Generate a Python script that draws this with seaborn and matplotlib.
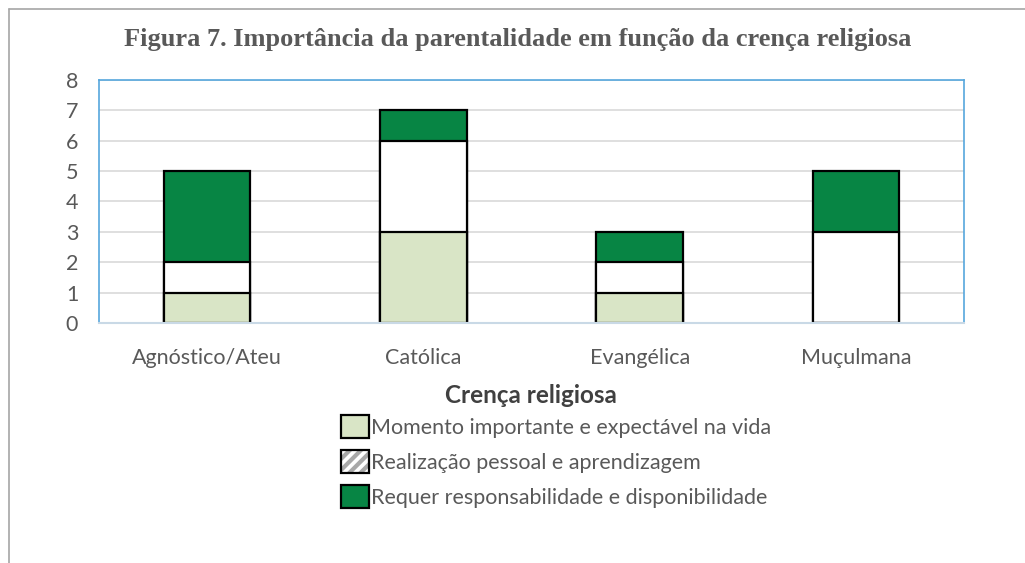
import numpy as np
import pandas as pd
import matplotlib
matplotlib.use("Agg")
import matplotlib.pyplot as plt
from matplotlib.patches import Patch
from matplotlib.lines import Line2D
import seaborn as sns

# Data
categories = ["Agnóstico/Ateu", "Católica", "Evangélica", "Muçulmana"]
momento = [1, 3, 1, 0]
realizacao = [1, 3, 1, 3]
requer = [3, 1, 1, 2]
series_names = ["Momento importante e expectável na vida",
                "Realização pessoal e aprendizagem",
                "Requer responsabilidade e disponibilidade"]

df = pd.DataFrame({"crenca": categories, "momento": momento,
                   "realizacao": realizacao, "requer": requer})
df["top1"] = df["momento"]
df["top2"] = df["momento"] + df["realizacao"]
df["top3"] = df["top2"] + df["requer"]

sns.set_style("white")
plt.rcParams["font.family"] = ["Lato", "DejaVu Sans"]
plt.rcParams["hatch.linewidth"] = 3.0

light_green = "#D9E5C6"
dark_green = "#078544"
text_col = "#595959"

fig = plt.figure(figsize=(10.25, 5.63), dpi=100)
ax = fig.add_axes([0.0966, 0.4263, 0.8439, 0.4317])

# stacked bars drawn as overlapping cumulative totals
bar_kw = dict(width=0.4, edgecolor="black", linewidth=1.6, ax=ax)
sns.barplot(data=df, x="crenca", y="top3", color=dark_green, saturation=1, **bar_kw)
sns.barplot(data=df, x="crenca", y="top2", color="white", saturation=1, **bar_kw)
sns.barplot(data=df, x="crenca", y="top1", color=light_green, saturation=1, **bar_kw)

ax.set_ylim(0, 8)
ax.set_xlim(-0.5, 3.5)
ax.set_yticks(range(0, 9))
ax.yaxis.grid(True, color="#D9D9D9", linewidth=1.2)
ax.set_axisbelow(True)
ax.tick_params(axis="both", labelsize=15.5, labelcolor=text_col, length=0)
ax.tick_params(axis="y", pad=15)
ax.tick_params(axis="x", pad=18)
ax.set_xticks(np.arange(-0.5, 4.0, 1.0), minor=True)
ax.tick_params(axis="x", which="minor", length=6, color="#D0D0D0", width=1.2)
ax.set_xlabel("")
ax.set_ylabel("")

for side in ["top", "left", "right"]:
    ax.spines[side].set_color("#56A7DD")
    ax.spines[side].set_linewidth(1.2)
ax.spines["bottom"].set_color("#C9D9E6")
ax.spines["bottom"].set_linewidth(1.5)

fig.text(0.505, 0.929, "Figura 7. Importância da parentalidade em função da crença religiosa",
         ha="center", va="center", fontsize=19, fontweight="bold",
         color=text_col, family=["Liberation Serif", "DejaVu Serif"])

fig.text(0.518, 0.298, "Crença religiosa", ha="center", va="center",
         fontsize=17.5, fontweight="bold", color="#404040")

hatched = (Patch(facecolor="white", edgecolor="#A8A8A8", hatch="///", linewidth=0),
           Patch(facecolor="none", edgecolor="black", linewidth=1.6))
handles = [Patch(facecolor=light_green, edgecolor="black", linewidth=1.6),
           hatched,
           Patch(facecolor=dark_green, edgecolor="black", linewidth=1.6)]
leg = fig.legend(handles, series_names, loc="upper left",
                 bbox_to_anchor=(0.333, 0.262), frameon=False, fontsize=15.5,
                 handlelength=1.3, handleheight=1.26, handletextpad=0.1,
                 labelspacing=0.55, borderaxespad=0, borderpad=0)
for t in leg.get_texts():
    t.set_color(text_col)

# outer chart frame
fig.add_artist(Line2D([0.009, 0.009], [0, 0.984], color="#A6A6A6", linewidth=1.2))
fig.add_artist(Line2D([0.009, 1.0], [0.984, 0.984], color="#A6A6A6", linewidth=1.2))

fig.savefig("out.png", dpi=100)
